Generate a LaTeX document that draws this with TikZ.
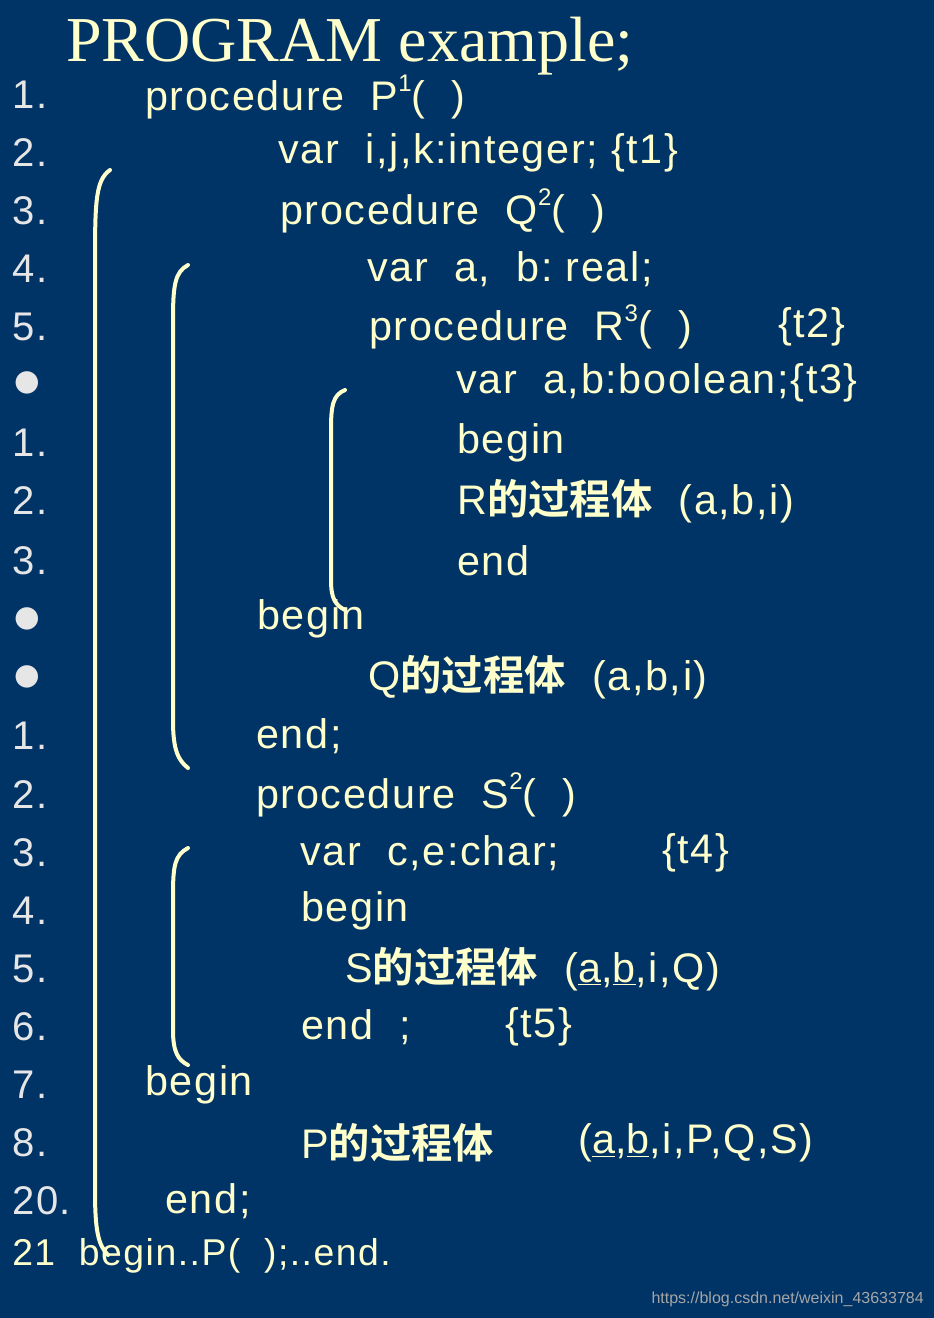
\documentclass[tikz,border=0pt]{standalone}
\usepackage{fontspec}
\setmainfont{Liberation Sans}[LetterSpace=4]
\newfontfamily\cjk{Noto Sans CJK SC}[BoldFont={* Bold}]
\newfontfamily\serif{Liberation Serif}
\newfontfamily\dv{DejaVu Sans}
\definecolor{bg}{HTML}{003366}
\definecolor{ty}{HTML}{FFFFCC}
\definecolor{num}{HTML}{E6E6E6}
\newcommand{\sups}[1]{\raisebox{0.45em}{\fontsize{18}{20}\selectfont #1}}
\begin{document}
\begin{tikzpicture}[x=0.75pt,y=-0.75pt,
  t/.style={anchor=west,inner sep=0pt,text=ty,font=\fontsize{31}{36}\selectfont},
  n/.style={anchor=west,inner sep=0pt,text=num,font=\fontsize{30}{36}\selectfont},
  b/.style={anchor=center,inner sep=0pt,text=num,font=\dv\fontsize{22}{26}\selectfont},
  br/.style={draw=ty,line width=3pt,line cap=round}]
\fill[bg] (0,0) rectangle (934,1318);
\useasboundingbox (0,0) rectangle (934,1318);
\node[anchor=west,inner sep=0pt,text=ty,font=\serif\fontsize{48}{52}\selectfont] (title) at (66,46) {PROGRAM example;};
% numbers
\foreach \l/\y [count=\i] in {1./95,2./153,3./211,4./269,5./327,1./443,2./501,3./561,1./736,2./795,3./853,4./911,5./969,6./1027,7./1085,8./1143,20./1201}
  \node[n] (n\i) at (12,\y) {\l};
\foreach \y [count=\i] in {383,619,677} \node[b] (bu\i) at (27,\y) {●};
% code
\node[t] (l1) at (145,97) {procedure\ \ P\sups{1}(\ \ )};
\node[t] (l2) at (278,153) {var\ \ i,j,k:integer;\ \{t1\}};
\node[t] (l3) at (280,211) {procedure\ \ Q\sups{2}(\ \ )};
\node[t] (l4) at (367,269) {var\ \ a,\ \ b:\ real;};
\node[t] (l5) at (369,327) {procedure\ \ R\sups{3}(\ \ )};
\node[t] (t2) at (778,327) {\{t2\}};
\node[t] (l6) at (456,383) {var\ \ a,b:boolean;\{t3\}};
\node[t] (l7) at (457,443) {begin};
\node[t] (l8) at (457,501) {R{\cjk\bfseries 的过程体}\ \ (a,b,i)};
\node[t] (l9) at (457,561) {end};
\node[t] (l10) at (257,619) {begin};
\node[t] (l11) at (368,677) {Q{\cjk\bfseries 的过程体}\ \ (a,b,i)};
\node[t] (l12) at (256,736) {end;};
\node[t] (l13) at (256,795) {procedure\ \ S\sups{2}(\ \ )};
\node[t] (l14) at (300,853) {var\ \ c,e:char;};
\node[t] (t4) at (662,853) {\{t4\}};
\node[t] (l15) at (301,911) {begin};
\node[t] (l16) at (345,969) {S{\cjk\bfseries 的过程体}\ \ (\underline{a},\underline{b},i,Q)};
\node[t] (l17) at (301,1027) {end\ \ ;};
\node[t] (t5) at (505,1027) {\{t5\}};
\node[t] (l18) at (145,1085) {begin};
\node[t] (l19) at (301,1143) {P{\cjk\bfseries 的过程体}};
\node[t] (l19b) at (578,1143) {(\underline{a},\underline{b},i,P,Q,S)};
\node[t] (l20) at (165,1201) {end;};
\node[anchor=west,inner sep=0pt,text=ty,font=\fontsize{28}{32}\selectfont] (l21) at (12,1256) {21\ \ begin..P(\ \ );..end.};
\node[anchor=east,inner sep=0pt,text=gray!70,font=\fontspec{Liberation Sans}\fontsize{12}{14}\selectfont] (wm) at (924,1299) {https://blog.csdn.net/weixin\_43633784};
% brackets
\draw[br] (110,170) .. controls (96,180) and (95,200) .. (95,260) -- (95,1190) .. controls (95,1230) and (98,1245) .. (108,1255);
\draw[br] (188,265) .. controls (175,272) and (173,285) .. (173,320) -- (173,720) .. controls (173,750) and (178,760) .. (188,768);
\draw[br] (345,390) .. controls (333,395) and (331,405) .. (331,430) -- (331,580) .. controls (331,598) and (335,605) .. (345,610);
\draw[br] (188,848) .. controls (175,855) and (173,865) .. (173,895) -- (173,1030) .. controls (173,1052) and (178,1060) .. (188,1065);
\end{tikzpicture}
\end{document}
